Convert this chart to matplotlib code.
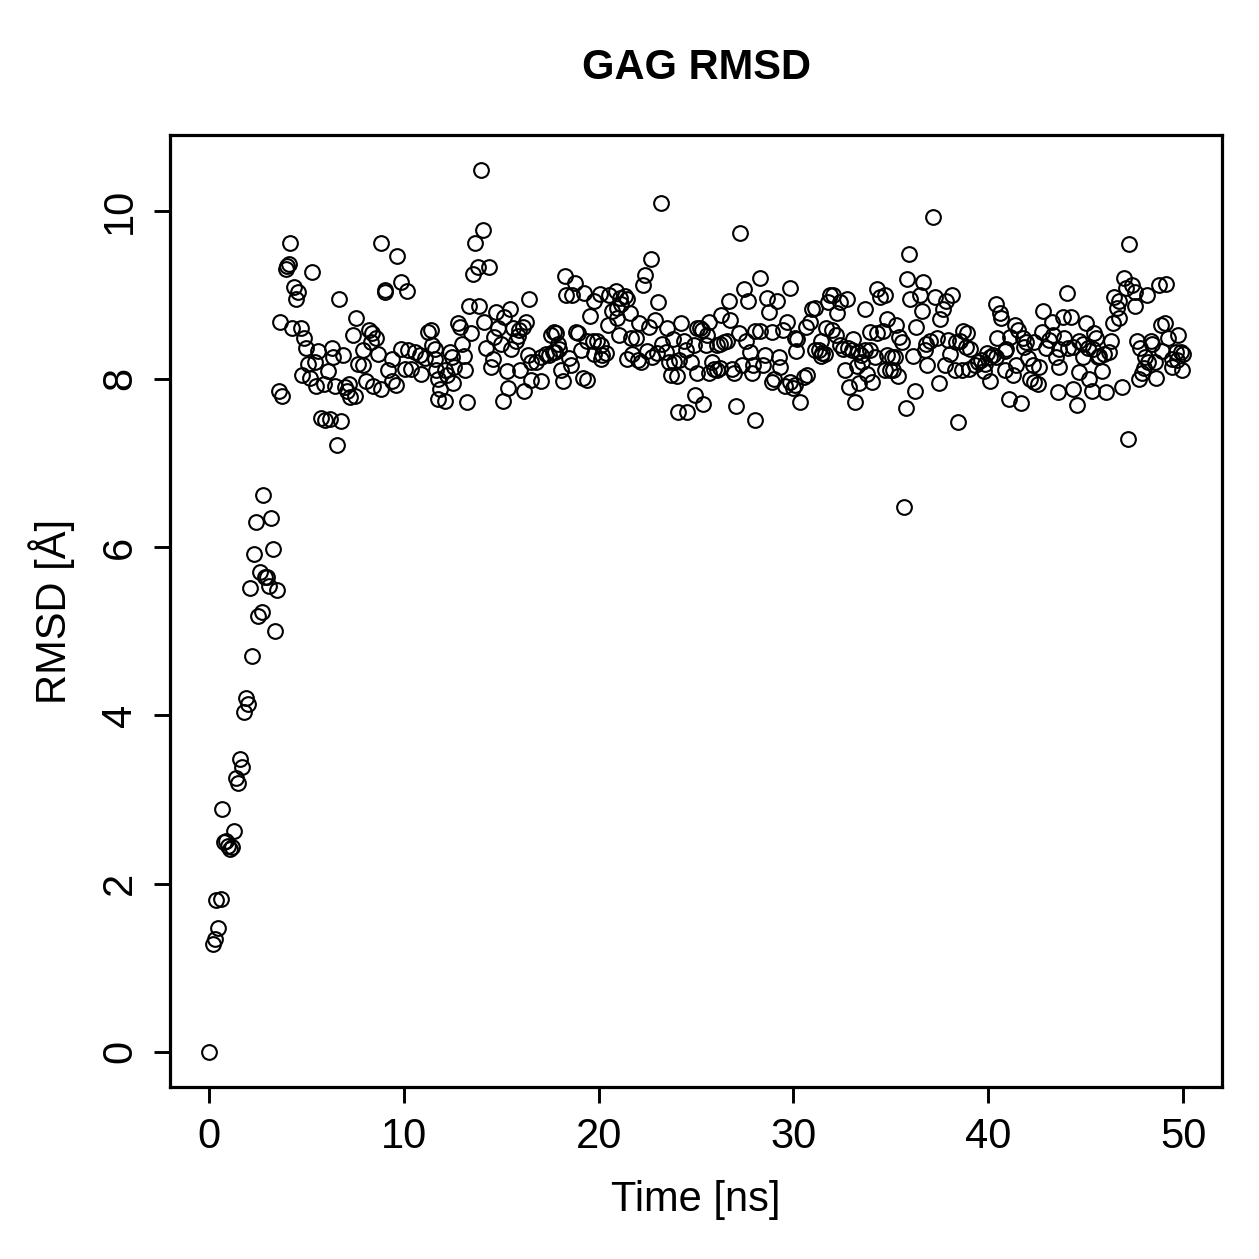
import matplotlib
matplotlib.use('Agg')
import matplotlib.pyplot as plt

# Dados (tempo em ns, RMSD em Angstrom)
time_ns = [
    0.0, 0.2, 0.3, 0.35, 0.45, 0.6, 0.67, 0.77, 0.87, 1.0, 1.1, 1.2, 1.28, 1.38, 1.5, 1.6, 1.7, 1.8, 1.9, 2.0,
    2.1, 2.2, 2.3, 2.4, 2.5, 2.6, 2.7, 2.78, 2.87, 3.0, 3.1, 3.18, 3.28, 3.38, 3.48,
    3.57, 3.65, 3.77, 3.96, 4.03, 4.09, 4.16, 4.25, 4.38, 4.47, 4.59, 4.71, 4.76, 4.9, 4.98, 5.10, 5.18, 5.27,
    5.44, 5.48, 5.61, 5.75,
    5.95, 6.21, 6.77, 5.92, 6.09, 6.29, 6.38, 6.46, 6.55, 6.67, 6.89, 6.98, 7.11, 7.18, 7.23, 7.37, 7.49, 7.57,
    7.66, 7.92, 7.92, 8.08, 8.2, 8.34, 8.37, 8.43, 8.56, 8.68, 8.82, 8.85, 9.03, 9.06, 9.2, 9.37, 9.37, 9.62,
    9.67, 9.88, 9.88, 10.05, 10.18, 10.22, 10.39, 10.56, 10.81, 10.9, 11.07, 11.24, 11.38, 11.67, 11.76, 11.84,
    11.76,
    11.58, 11.62, 11.45, 12.13, 12.1, 12.23, 12.35, 12.47, 12.55, 12.6, 12.78, 12.91, 12.98, 13.08, 13.16, 13.25,
    13.37, 13.46, 13.54, 13.66, 13.8, 13.88, 13.97, 14.06, 14.14, 14.23, 14.36, 14.48, 14.57, 14.65, 14.74,
    14.83, 14.99, 15.07, 15.12, 15.3, 15.37, 15.46, 15.51, 15.59, 15.76, 15.88, 15.93, 15.98, 16.1, 16.19,
    16.27, 16.36, 16.44, 16.53, 16.53, 16.79, 17.04, 17.04, 17.3, 17.47, 17.55, 17.72, 17.76, 17.81,
    17.64, 17.9, 17.98, 18.07, 18.15, 18.27, 18.32, 18.5, 18.58, 18.61, 18.78, 18.83, 18.95, 19.09, 19.18,
    19.26, 19.4, 19.43, 19.56, 19.69, 19.77, 19.77, 19.94, 20.08, 20.11, 20.11, 20.2, 20.37, 20.46, 20.54,
    20.71, 20.88, 20.97, 20.97, 21.05, 21.1, 21.14, 21.34, 21.44, 21.48, 21.61, 21.65, 21.74, 21.9, 22.02,
    22.08, 22.2, 22.26, 22.36, 22.5, 22.59, 22.67, 22.76, 22.88, 22.98, 23.05, 23.18, 23.27, 23.44, 23.49,
    23.61, 23.7, 23.83, 23.86, 24.04, 24.07, 24.23, 24.12,
    24.37, 24.51, 24.55, 24.72, 24.89, 24.97, 25.06, 25.06, 25.23, 25.32, 25.37, 25.49, 25.58, 25.66, 25.66,
    25.83, 25.92, 26.08, 26.08, 26.22, 26.25, 26.26, 26.42, 26.59, 26.68, 26.77, 26.85, 26.94, 27.07, 27.19,
    27.25, 27.36, 27.48, 27.58, 27.65, 27.75, 27.87, 27.92, 28.05, 28.05, 28.27, 28.3, 28.43, 28.56, 28.65,
    28.76, 28.89, 28.9, 28.98, 29.16, 29.24, 29.32, 29.46, 29.58, 29.67, 29.8, 29.84, 29.97, 30.09, 30.09,
    30.14, 30.21, 30.35,
    30.54, 30.66, 30.71, 30.86, 30.95, 31.12, 31.12, 31.29, 31.41, 31.42, 31.45, 31.63, 31.67, 31.75, 31.88,
    31.97, 32.02, 32.19, 32.23, 32.4, 32.4, 32.53, 32.65, 32.77, 32.82, 32.87, 32.99, 33.07, 33.16, 33.25,
    33.33, 33.38, 33.45, 33.51, 33.67, 33.67, 33.76, 33.93, 33.93, 34.02, 34.19, 34.27, 34.3, 34.44, 34.58,
    34.7, 34.7, 34.78, 34.82, 34.95, 35.04, 35.12, 35.21, 35.26, 35.38, 35.43, 35.55, 35.67, 35.77, 35.84,
    35.94, 36.01, 36.15, 36.23, 36.28,
    36.49, 36.58, 36.66, 36.74, 36.83, 36.86, 37.0, 37.14, 37.26, 37.35, 37.47, 37.55, 37.68, 37.77, 37.85,
    37.94, 38.06, 38.16, 38.28, 38.36, 38.45, 38.54, 38.67, 38.69, 38.84, 38.9, 39.01, 39.08, 39.3, 39.47,
    39.64, 39.77, 39.82, 39.94, 40.07, 40.07, 40.24, 40.38, 40.41, 40.45, 40.58, 40.67, 40.84, 40.84, 40.92,
    41.06, 41.1, 41.27, 41.35, 41.44, 41.52, 41.69, 41.78, 41.86, 41.95, 42.04, 42.12, 42.29, 42.37, 42.37,
    42.55,
    42.63, 42.77, 42.8, 42.96, 43.14, 43.28, 43.35, 43.48, 43.57, 43.65, 43.65, 43.82, 43.91, 44.03, 44.08,
    44.25, 44.33, 44.33, 44.56, 44.64, 44.68, 44.84, 44.88, 45.03, 45.14, 45.16, 45.35, 45.38, 45.43, 45.53,
    45.62, 45.7, 45.84, 45.96, 46.06, 46.21, 46.3, 46.43, 46.47, 46.59, 46.69, 46.72, 46.85, 46.95, 47.07,
    47.15, 47.24, 47.37, 47.54, 47.54, 47.62, 47.75, 47.79, 47.88, 48.0, 48.05, 48.17, 48.19, 48.35, 48.43,
    48.56, 48.63, 48.77, 48.85, 48.94, 49.07, 49.11, 49.25, 49.41, 49.45, 49.62, 49.71, 49.76, 49.87, 49.95,
    50.0,
]

rmsd = [
    0.0, 1.28, 1.34, 1.81, 1.47, 1.82, 2.89, 2.49, 2.50, 2.45, 2.41, 2.43, 2.62, 3.25, 3.2, 3.48, 3.39, 4.04, 4.21, 4.14,
    5.51, 4.71, 5.92, 6.30, 5.18, 5.70, 5.23, 6.62, 5.65, 5.64, 5.54, 6.34, 5.98, 5.0, 5.49,
    7.85, 8.67, 7.80, 9.31, 9.34, 9.37, 9.61, 8.60, 9.09, 8.95, 9.03, 8.60, 8.04, 8.48, 8.37, 8.18, 8.01, 9.27,
    8.20, 7.92, 8.33, 7.53,
    7.51, 7.52, 7.50, 7.94, 8.09, 8.37, 8.26, 7.92, 7.21, 8.95, 8.28, 7.9, 7.85, 7.94, 7.78, 8.52, 7.8, 8.72,
    8.18, 8.16, 8.34, 7.98, 8.58, 8.44, 8.54, 7.92, 8.49, 8.29, 7.88, 9.62, 9.03, 9.06, 8.11, 8.24, 7.97, 7.93,
    9.46, 9.15, 8.36, 8.12, 9.04, 8.34, 8.12, 8.32, 8.28, 8.06, 8.25, 8.56, 8.58, 8.1, 8.0, 7.88,
    7.76,
    8.36, 8.24, 8.40, 7.74, 8.1, 8.04, 8.32, 8.26, 7.95, 8.14, 8.66, 8.62, 8.42, 8.27, 8.1, 7.72,
    8.87, 8.54, 9.25, 9.61, 9.33, 8.87, 10.48, 9.77, 8.67, 8.37, 9.33, 8.14, 8.24, 8.5, 8.8,
    8.61, 8.42, 7.74, 8.74, 8.09, 7.89, 8.83, 8.36, 8.6, 8.45, 8.51, 8.58, 8.11, 8.62, 7.86,
    8.68, 8.28, 8.95, 8.2, 7.99, 8.2, 8.26, 7.97, 8.3, 8.28, 8.52, 8.56, 8.32, 8.54,
    8.32, 8.42, 8.36, 8.1, 7.97, 9.22, 9.0, 8.25, 8.16, 9.0, 9.14, 8.56, 8.54, 8.34, 8.01,
    9.02, 7.99, 8.45, 8.75, 8.45, 8.93, 8.3, 8.45, 9.01, 8.4, 8.24, 8.28, 8.31, 8.64, 9.0,
    8.81, 9.04, 8.84, 8.72, 8.52, 8.96, 8.89, 8.98, 8.95, 8.24, 8.78, 8.48, 8.3, 8.49, 8.23,
    8.66, 8.2, 9.11, 9.23, 8.33, 8.62, 9.43, 8.26, 8.7, 8.31, 8.91, 10.09, 8.41, 8.32, 8.6,
    8.2, 8.05, 8.47, 8.2, 8.03, 7.6, 8.66, 8.22,
    8.45, 8.34, 7.61, 8.2, 8.4, 7.81, 8.6, 8.07, 8.6, 8.58, 7.7, 8.4, 8.52, 8.68, 8.07,
    8.2, 8.12, 8.4, 8.1, 8.13, 8.42, 8.76, 8.44, 8.45, 8.92, 8.7, 8.12, 8.07, 7.68, 8.54,
    9.74, 8.16, 9.07, 8.45, 8.92, 8.32, 8.07, 8.17, 8.57, 7.51, 9.2, 8.57, 8.17, 8.28, 8.96,
    8.8, 8.56, 7.96, 8.0, 8.93, 8.26, 8.14, 8.58, 7.92, 8.68, 7.96, 9.08, 7.89, 7.93, 8.48,
    8.33, 8.47, 7.73,
    8.02, 8.62, 8.05, 8.68, 8.83, 8.84, 8.34, 8.34, 8.27, 8.45, 8.31, 8.29, 8.6, 8.91, 9.0,
    8.58, 9.0, 8.52, 8.78, 8.91, 8.4, 8.36, 8.11, 8.95, 8.37, 7.9, 8.34, 8.47, 7.73, 8.15,
    8.32, 7.95, 8.28, 8.2, 8.83, 8.34, 8.06, 8.56, 8.34, 7.96, 8.26, 9.07, 8.54, 8.97, 8.57,
    9.0, 8.1, 8.28, 8.71, 8.11, 8.26, 8.1, 8.26, 8.64, 8.03, 8.5, 8.44, 6.48, 7.65, 9.19,
    9.49, 8.95, 8.27, 7.85, 8.62,
    9.0, 8.81, 9.15, 8.34, 8.42, 8.16, 8.45, 9.92, 8.97, 8.49, 7.95, 8.71, 8.83, 8.17, 8.93,
    8.46, 8.29, 9.0, 8.1, 8.44, 7.49, 8.45, 8.11, 8.57, 8.38, 8.54, 8.12, 8.36, 8.16, 8.2,
    8.23, 8.09, 8.18, 8.31, 8.26, 7.97, 8.28, 8.89, 8.26, 8.49, 8.78, 8.72, 8.33, 8.1, 8.35,
    7.76, 8.5, 8.05, 8.64, 8.16, 8.58, 7.71, 8.48, 8.38, 8.44, 8.25, 8.0, 8.16, 8.44, 7.96,
    7.94,
    8.14, 8.56, 8.81, 8.37, 8.46, 8.67, 8.52, 8.26, 7.84, 8.36, 8.14, 8.74, 8.49, 9.02, 8.37,
    8.74, 8.38, 7.88, 7.69, 8.08, 8.45, 8.26, 8.41, 8.66, 8.37, 8.0, 7.86, 8.36, 8.54, 8.49,
    8.26, 8.27, 8.09, 8.29, 7.84, 8.32, 8.45, 8.66, 8.97, 8.84, 8.93, 8.72, 7.9, 9.2, 9.08,
    7.28, 9.6, 9.11, 9.03, 8.87, 8.45, 8.0, 8.37, 8.07, 8.13, 8.26, 9.0, 8.2, 8.45, 8.42,
    8.2, 8.01, 9.12, 8.64, 8.33, 8.66, 9.13, 8.49, 8.14, 8.24, 8.32, 8.22, 8.52, 8.32, 8.11,
    8.3,
]

titulo = 'GAG RMSD'
rotulo_x = 'Time [ns]'
rotulo_y = 'RMSD [Å]'
ticks_x = [0, 10, 20, 30, 40, 50]
ticks_y = [0, 2, 4, 6, 8, 10]

plt.rcParams['font.family'] = ['Liberation Sans', 'DejaVu Sans']
tamanho_fonte = 30

fig = plt.figure(figsize=(12.59, 12.59), dpi=100)
ax = fig.add_axes([170 / 1259, 1 - 1087 / 1259, (1222 - 170) / 1259, (1087 - 135) / 1259])

# Círculos abertos, como no plot padrão do R
ax.plot(time_ns, rmsd, linestyle='none', marker='o', markersize=10.6,
        markerfacecolor='none', markeredgecolor='black', markeredgewidth=1.5)

# Limites com 4% de margem (estilo R)
xmin, xmax = min(time_ns), max(time_ns)
ymin, ymax = min(rmsd), max(rmsd)
ax.set_xlim(xmin - 0.04 * (xmax - xmin), xmax + 0.04 * (xmax - xmin))
ax.set_ylim(ymin - 0.04 * (ymax - ymin), ymax + 0.04 * (ymax - ymin))

ax.set_xticks(ticks_x)
ax.set_yticks(ticks_y)
ax.set_xticklabels([str(t) for t in ticks_x], fontsize=tamanho_fonte)
ax.set_yticklabels([str(t) for t in ticks_y], fontsize=tamanho_fonte, rotation=90, va='center')
ax.tick_params(axis='both', direction='out', length=11.5, width=2.1, pad=10)

for lado in ax.spines.values():
    lado.set_linewidth(2.3)

fig.text(696 / 1259, 1 - 68 / 1259, titulo, ha='center', va='center',
         fontsize=tamanho_fonte, fontweight='bold')
fig.text(696 / 1259, 1 - 1200 / 1259, rotulo_x, ha='center', va='center', fontsize=tamanho_fonte)
fig.text(52 / 1259, 1 - 611 / 1259, rotulo_y, ha='center', va='center',
         fontsize=tamanho_fonte, rotation=90)

fig.savefig('out.png', dpi=100)
plt.close(fig)
